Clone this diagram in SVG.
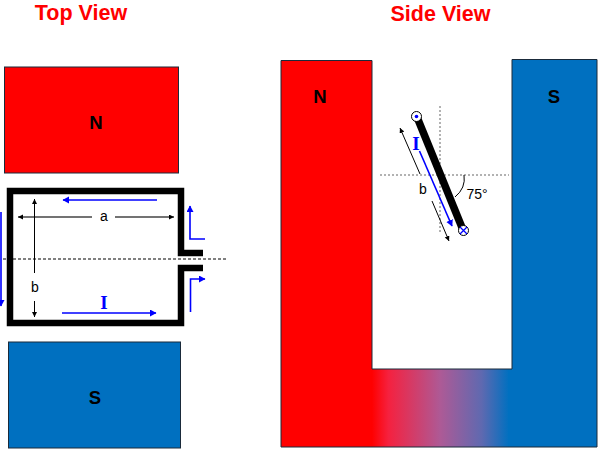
<svg xmlns="http://www.w3.org/2000/svg" width="600" height="451" viewBox="0 0 600 451">
<style>
.t{font-family:"Liberation Sans",Arial,sans-serif}
.title{font-size:21.500px;font-weight:bold;fill:#f00;text-anchor:middle}
.pole{font-size:18.500px;font-weight:bold;fill:#000;text-anchor:middle}
.dim{font-size:14px;fill:#000;text-anchor:middle}
.cur{font-family:"Liberation Serif",serif;font-size:19px;font-weight:bold;fill:#00f;text-anchor:middle}
.mag{stroke:#1a2a3a;stroke-width:1}
.blue{stroke:#00f;stroke-width:1.600;fill:none}
.thin{stroke:#000;stroke-width:1;fill:none}
.gray{stroke:#444;stroke-width:1.300;fill:none}
.dot{stroke:#999;stroke-width:1.500;stroke-dasharray:2 2;fill:none}
</style>
<defs>
<marker id="ab" markerUnits="userSpaceOnUse" markerWidth="8" markerHeight="8" refX="6" refY="3.500" orient="auto-start-reverse"><path d="M0 0L6.500 3.500L0 7z" fill="#00f"/></marker>
<marker id="ak" markerUnits="userSpaceOnUse" markerWidth="6" markerHeight="6" refX="5" refY="2.500" orient="auto-start-reverse"><path d="M0 0L5 2.500L0 5z" fill="#000"/></marker>
<linearGradient id="yoke" x1="0" x2="1" y1="0" y2="0"><stop offset="0" stop-color="#f00"/><stop offset=".12" stop-color="#f5213f"/><stop offset=".5" stop-color="#ad5a96"/><stop offset=".8" stop-color="#5f69b0"/><stop offset="1" stop-color="#0070c0"/></linearGradient>
</defs>
<text class="t title" x="81" y="20">Top View</text>
<text class="t title" x="440.500" y="21">Side View</text>
<g id="magnet-n-top"><rect class="mag" x="4.500" y="67" width="174" height="106" fill="#f00"/><text class="t pole" x="96" y="128.500">N</text></g>
<g id="magnet-s-top"><rect class="mag" x="8.500" y="342" width="172" height="106" fill="#0070c0"/><text class="t pole" x="95" y="403.500">S</text></g>
<g id="coil">
<path d="M203 253H181V191H10V323H181V268H203" fill="none" stroke="#000" stroke-width="6.500"/>
</g>
<g id="connectors">
<path d="M3 259H226" stroke="#000" stroke-width="1" stroke-dasharray="3 2" fill="none"/>
<path class="blue" d="M157 200H63" marker-end="url(#ab)"/>
<path class="blue" d="M62 313H156" marker-end="url(#ab)"/>
<path class="blue" d="M1 212V306" marker-end="url(#ab)"/>
<path class="blue" d="M205 239H190V206" marker-end="url(#ab)"/>
<path class="blue" d="M190.500 312V279H205" marker-end="url(#ab)"/>
<path class="gray" d="M92 217H18" marker-end="url(#ak)"/>
<path class="gray" d="M115 217H174" marker-end="url(#ak)"/>
<path class="thin" d="M34.500 273V199" marker-end="url(#ak)"/>
<path class="thin" d="M34.500 301V317" marker-end="url(#ak)"/>
</g>
<text class="t dim" x="104" y="221">a</text>
<text class="t dim" x="35" y="292">b</text>
<text class="cur" x="104" y="309">I</text>
<g id="magnet-side">
<rect x="372" y="369" width="137" height="78" fill="url(#yoke)"/>
<path fill="#f00" d="M281 60.500H372V447H281z"/>
<path fill="#0070c0" d="M512 59.500H597V447H508V369H512z"/>
<path d="M372 60.500H281V447H597V59.500H512V369H372z" fill="none" stroke="#1a2a3a" stroke-width="1"/>
<text class="t pole" x="320" y="103">N</text>
<text class="t pole" x="554" y="103">S</text>
</g>
<g id="coil-side">
<path class="dot" d="M440 106V232"/>
<path class="dot" d="M380 175H509"/>
<path d="M417 117L463 230" stroke="#000" stroke-width="7.500" fill="none"/>
<circle cx="416.500" cy="116.500" r="5" fill="#fff" stroke="#000" stroke-width="1"/>
<circle cx="416.500" cy="116.500" r="1.800" fill="#00f"/>
<circle cx="463.500" cy="230.500" r="5" fill="#fff" stroke="#000" stroke-width="1"/>
<path d="M460 227L467 234M467 227L460 234" stroke="#00f" stroke-width="1.300"/>
<path class="blue" d="M419.500 151L452 226" marker-end="url(#ab)"/>
<path class="thin" d="M420 174L400 128" marker-end="url(#ak)"/>
<path class="thin" d="M432 201L449 241" marker-end="url(#ak)"/>
<path class="thin" d="M464 175Q466 188 455 197"/>
<text class="t dim" x="423" y="194">b</text>
<text class="t dim" x="477" y="199">75°</text>
<text class="cur" x="416" y="150">I</text>
</g>
</svg>
